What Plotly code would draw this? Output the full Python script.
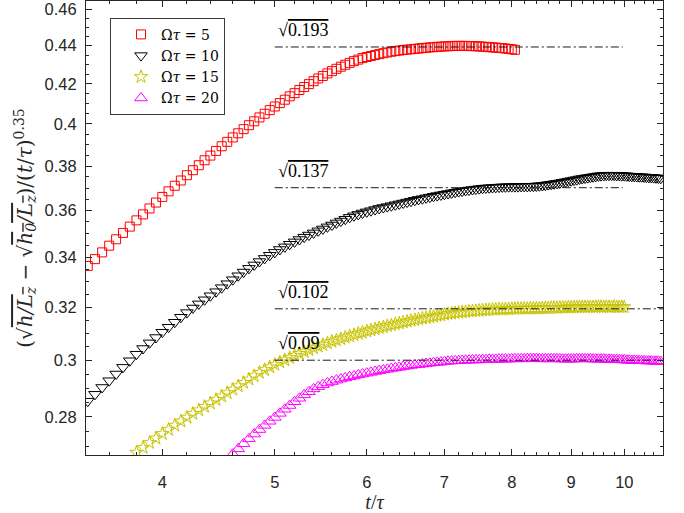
import math
import plotly.graph_objects as go

# ---------------- data ----------------
T = [3.45, 3.50, 3.55, 3.60, 3.65, 3.70, 3.75, 3.80, 3.85, 3.90, 3.95,
     4.00, 4.05, 4.10, 4.15, 4.20, 4.25, 4.30, 4.35, 4.40, 4.45,
     4.50, 4.55, 4.60, 4.65, 4.70, 4.75, 4.80, 4.85, 4.90, 4.95,
     5.00, 5.05, 5.10, 5.15, 5.20, 5.25, 5.30, 5.35, 5.40, 5.45,
     5.50, 5.55, 5.60, 5.65, 5.70, 5.75, 5.80, 5.85, 5.90, 5.95,
     6.00, 6.05, 6.10, 6.15, 6.20, 6.25, 6.30, 6.35, 6.40, 6.45,
     6.50, 6.55, 6.60, 6.65, 6.70, 6.75, 6.80, 6.85, 6.90, 6.95,
     7.00, 7.05, 7.10, 7.15, 7.20, 7.25, 7.30, 7.35, 7.40, 7.45,
     7.50, 7.55, 7.60, 7.65, 7.70, 7.75, 7.80, 7.85, 7.90, 7.95,
     8.00, 8.05, 8.10, 8.15, 8.20, 8.25, 8.30, 8.35, 8.40, 8.45,
     8.50, 8.55, 8.60, 8.65, 8.70, 8.75, 8.80, 8.85, 8.90, 8.95,
     9.00, 9.05, 9.10, 9.15, 9.20, 9.25, 9.30, 9.35, 9.40, 9.45,
     9.50, 9.55, 9.60, 9.65, 9.70, 9.75, 9.80, 9.85, 9.90, 9.95,
     10.00, 10.05, 10.10, 10.15, 10.20, 10.25, 10.30, 10.35, 10.40, 10.45,
     10.50, 10.55, 10.60, 10.65, 10.70, 10.75]

RED_START = 3.45
RED = [0.3365, 0.3393, 0.3421, 0.3449, 0.3476, 0.3503, 0.3530, 0.3557, 0.3583, 0.3609, 0.3635,
       0.3660, 0.3685, 0.3710, 0.3734, 0.3758, 0.3781, 0.3804, 0.3827, 0.3849, 0.3871,
       0.3893, 0.3914, 0.3935, 0.3955, 0.3975, 0.3994, 0.4013, 0.4032, 0.4050, 0.4068,
       0.4086, 0.4103, 0.4120, 0.4137, 0.4153, 0.4169, 0.4184, 0.4199, 0.4214, 0.4228,
       0.4241, 0.4254, 0.4266, 0.4278, 0.4289, 0.4299, 0.4309, 0.4318, 0.4326, 0.4334,
       0.4340, 0.4345, 0.4350, 0.4355, 0.4360, 0.4364, 0.4368, 0.4371, 0.4374, 0.4377,
       0.4379, 0.4381, 0.4383, 0.4385, 0.4387, 0.4389, 0.4391, 0.4392, 0.4394, 0.4395,
       0.4396, 0.4397, 0.4398, 0.4399, 0.4399, 0.4399, 0.4399, 0.4398, 0.4398, 0.4397,
       0.4396, 0.4395, 0.4394, 0.4392, 0.4391, 0.4390, 0.4388, 0.4387, 0.4385, 0.4383,
       0.4381, 0.4378]

BLACK_START = 3.45
BLACK = [0.2854, 0.2878, 0.2902, 0.2926, 0.2950, 0.2974, 0.2998, 0.3022, 0.3043, 0.3064, 0.3084,
         0.3104, 0.3123, 0.3142, 0.3161, 0.3179, 0.3197, 0.3213, 0.3229, 0.3245, 0.3261,
         0.3277, 0.3293, 0.3309, 0.3325, 0.3340, 0.3355, 0.3369, 0.3383, 0.3396, 0.3409,
         0.3421, 0.3433, 0.3444, 0.3455, 0.3465, 0.3475, 0.3485, 0.3494, 0.3503, 0.3512,
         0.3520, 0.3529, 0.3537, 0.3546, 0.3554, 0.3562, 0.3570, 0.3577, 0.3583, 0.3589,
         0.3594, 0.3599, 0.3604, 0.3609, 0.3613, 0.3617, 0.3621, 0.3625, 0.3629, 0.3633,
         0.3637, 0.3641, 0.3645, 0.3649, 0.3652, 0.3656, 0.3659, 0.3663, 0.3666, 0.3669,
         0.3672, 0.3675, 0.3678, 0.3681, 0.3684, 0.3686, 0.3689, 0.3691, 0.3693, 0.3695,
         0.3697, 0.3699, 0.3700, 0.3701, 0.3702, 0.3703, 0.3704, 0.3705, 0.3705, 0.3706,
         0.3706, 0.3706, 0.3706, 0.3707, 0.3707, 0.3707, 0.3708, 0.3708, 0.3709, 0.3710,
         0.3711, 0.3713, 0.3715, 0.3717, 0.3719, 0.3721, 0.3723, 0.3726, 0.3728, 0.3731,
         0.3733, 0.3736, 0.3738, 0.3741, 0.3743, 0.3745, 0.3747, 0.3749, 0.3751, 0.3753,
         0.3755, 0.3756, 0.3757, 0.3758, 0.3758, 0.3758, 0.3758, 0.3757, 0.3757, 0.3756,
         0.3756, 0.3755, 0.3754, 0.3753, 0.3753, 0.3752, 0.3751, 0.3751, 0.3750, 0.3749,
         0.3748, 0.3748, 0.3747, 0.3746, 0.3745, 0.3744]

YELLOW_START = 3.80
YELLOW = [0.2681, 0.2697, 0.2713, 0.2728,
          0.2743, 0.2757, 0.2771, 0.2785, 0.2798, 0.2811, 0.2823, 0.2835, 0.2847, 0.2859,
          0.2871, 0.2883, 0.2895, 0.2907, 0.2919, 0.2931, 0.2943, 0.2955, 0.2965, 0.2975,
          0.2984, 0.2993, 0.3001, 0.3009, 0.3017, 0.3024, 0.3031, 0.3038, 0.3045, 0.3051,
          0.3057, 0.3063, 0.3069, 0.3074, 0.3079, 0.3085, 0.3090, 0.3094, 0.3099, 0.3103,
          0.3108, 0.3112, 0.3116, 0.3120, 0.3124, 0.3128, 0.3131, 0.3135, 0.3138, 0.3142,
          0.3145, 0.3148, 0.3151, 0.3154, 0.3157, 0.3159, 0.3162, 0.3164, 0.3167, 0.3169,
          0.3172, 0.3174, 0.3176, 0.3178, 0.3179, 0.3181, 0.3182, 0.3184, 0.3185, 0.3186,
          0.3187, 0.3188, 0.3189, 0.3190, 0.3191, 0.3191, 0.3192, 0.3192, 0.3193, 0.3193,
          0.3194, 0.3194, 0.3195, 0.3195, 0.3195, 0.3195, 0.3196, 0.3196, 0.3196, 0.3196,
          0.3197, 0.3197, 0.3197, 0.3198, 0.3198, 0.3198, 0.3199, 0.3199, 0.3199, 0.3200,
          0.3200, 0.3200, 0.3200, 0.3201, 0.3201, 0.3201, 0.3201, 0.3201, 0.3201, 0.3201,
          0.3202, 0.3202, 0.3201, 0.3202, 0.3201, 0.3201, 0.3202, 0.3201, 0.3201, 0.3201,
          0.3201]

MAGENTA_START = 4.60
MAGENTA = [0.2676, 0.2693, 0.2710, 0.2726, 0.2742, 0.2757, 0.2771, 0.2785,
           0.2798, 0.2812, 0.2826, 0.2839, 0.2852, 0.2864, 0.2876, 0.2887, 0.2897, 0.2905,
           0.2912, 0.2918, 0.2923, 0.2928, 0.2932, 0.2936, 0.2940, 0.2943, 0.2947, 0.2950,
           0.2953, 0.2956, 0.2959, 0.2962, 0.2965, 0.2967, 0.2970, 0.2972, 0.2974, 0.2977,
           0.2979, 0.2981, 0.2983, 0.2984, 0.2986, 0.2988, 0.2989, 0.2991, 0.2992, 0.2993,
           0.2995, 0.2996, 0.2997, 0.2998, 0.2998, 0.2999, 0.3000, 0.3000, 0.3001, 0.3001,
           0.3001, 0.3002, 0.3002, 0.3003, 0.3003, 0.3003, 0.3004, 0.3004, 0.3004, 0.3004,
           0.3005, 0.3005, 0.3005, 0.3005, 0.3005, 0.3006, 0.3006, 0.3006, 0.3006, 0.3005,
           0.3005, 0.3005, 0.3005, 0.3005, 0.3005, 0.3005, 0.3005, 0.3004, 0.3004, 0.3004,
           0.3004, 0.3004, 0.3005, 0.3005, 0.3005, 0.3005, 0.3005, 0.3005, 0.3004, 0.3004,
           0.3004, 0.3004, 0.3004, 0.3003, 0.3003, 0.3003, 0.3002, 0.3002, 0.3002, 0.3001,
           0.3001, 0.3000, 0.3000, 0.2999, 0.2999, 0.2999, 0.2998, 0.2998, 0.2998, 0.2997,
           0.2997, 0.2997, 0.2996, 0.2996, 0.2996, 0.2995]

SERIES_NAMES = ["Ω<i>τ</i> = 5", "Ω<i>τ</i> = 10", "Ω<i>τ</i> = 15", "Ω<i>τ</i> = 20"]

# plateau reference lines: value under the root, start time, end time
REF_SQ = [0.193, 0.137, 0.102, 0.09]
REF_LABELS = ["0.193", "0.137", "0.102", "0.09"]
REF_T0 = [5.0, 5.0, 5.0, 5.0]
REF_T1 = [9.97, 9.97, 11.0, 11.0]

X_TICKS = [4, 5, 6, 7, 8, 9, 10]
Y_TICKS = [0.28, 0.30, 0.32, 0.34, 0.36, 0.38, 0.40, 0.42, 0.44, 0.46]
Y_TICKTEXT = ["0.28", "0.3", "0.32", "0.34", "0.36", "0.38", "0.4", "0.42", "0.44", "0.46"]


def times(start, n):
    i = min(range(len(T)), key=lambda k: abs(T[k] - start))
    return T[i:i + n]


SERIF = "DejaVu Serif, Liberation Serif, serif"
SERIF2 = "Liberation Serif, DejaVu Serif, serif"
SANS = "Liberation Sans, Arial, Helvetica, sans-serif"
AXC = "#262626"

fig = go.Figure()

styles = [
    (RED_START, RED, "square-open", "#ff0000", 9),
    (BLACK_START, BLACK, "triangle-down-open", "#000000", 11),
    (YELLOW_START, YELLOW, "star-open", "#c8c400", 10),
    (MAGENTA_START, MAGENTA, "triangle-up-open", "#ff00ff", 11),
]
for (t0, vals, sym, col, sz), name in zip(styles, SERIES_NAMES):
    fig.add_trace(go.Scatter(
        x=times(t0, len(vals)), y=vals, mode="markers", name=name,
        marker=dict(symbol=sym, color=col, size=sz, line=dict(color=col, width=1)),
    ))

for sq, t0, t1 in zip(REF_SQ, REF_T0, REF_T1):
    v = math.sqrt(sq)
    fig.add_trace(go.Scatter(
        x=[t0, t1], y=[v, v], mode="lines", showlegend=False,
        line=dict(color="#1a1a1a", width=1, dash="8px,3px,2px,3px"),
        hoverinfo="skip",
    ))

for sq, lab, t0 in zip(REF_SQ, REF_LABELS, REF_T0):
    v = math.sqrt(sq)
    fig.add_annotation(
        x=math.log10(t0 * 1.003), y=math.log10(v), xref="x", yref="y",
        text="√<span style='text-decoration:overline'>" + lab + "</span>",
        showarrow=False, xanchor="left", yanchor="bottom", yshift=5,
        font=dict(family=SERIF2, size=18, color="#000000"),
    )

minor_x = [round(3.6 + 0.2 * k, 1) for k in range(37)]
minor_x = [v for v in minor_x if abs(v - round(v)) > 1e-6]
minor_y = [round(0.265 + 0.005 * k, 3) for k in range(42)]
minor_y = [v for v in minor_y if abs(v * 50 - round(v * 50)) > 1e-6]


def ov(s):
    return "<span style='text-decoration:overline;font-style:italic'>" + s + "</span>"


Y_TITLE = ("(√" + ov("h/L") + "<sub>" + ov("z") + "</sub>"
           + " − √" + ov("h") + "<sub>" + ov("0") + "</sub>" + ov("/L") + "<sub>" + ov("z") + "</sub>"
           + ")/(<i>t</i>/<i>τ</i>)<sup>0.35</sup>")

fig.update_layout(
    width=684, height=513, autosize=False,
    margin=dict(l=86, r=21, t=1, b=58),
    paper_bgcolor="white", plot_bgcolor="white",
    showlegend=True,
    legend=dict(
        x=0.0416, y=0.963, xanchor="left", yanchor="top",
        bgcolor="white", bordercolor="#3a3a3a", borderwidth=1,
        font=dict(family=SERIF, size=14, color="#000000"),
        indentation=10,
    ),
    xaxis=dict(
        type="log", range=[0.53634, 1.03333],
        tickmode="array", tickvals=X_TICKS, ticktext=[str(v) for v in X_TICKS],
        ticks="inside", ticklen=6, tickwidth=1, tickcolor=AXC,
        minor=dict(tickmode="array", tickvals=minor_x, ticks="inside", ticklen=3,
                   tickwidth=1, tickcolor=AXC, showgrid=False),
        showline=True, linecolor=AXC, linewidth=1, mirror="allticks",
        showgrid=False, zeroline=False,
        tickfont=dict(family=SANS, size=16.5, color=AXC),
        ticklabelstandoff=12, ticklabeloverflow="allow",
        title=dict(text="<i>t</i>/<i>τ</i>", font=dict(family=SERIF2, size=20, color=AXC),
                   standoff=4),
    ),
    yaxis=dict(
        type="log", range=[-0.57301, -0.33290],
        tickmode="array", tickvals=Y_TICKS, ticktext=Y_TICKTEXT,
        ticks="inside", ticklen=6, tickwidth=1, tickcolor=AXC,
        minor=dict(tickmode="array", tickvals=minor_y, ticks="inside", ticklen=3,
                   tickwidth=1, tickcolor=AXC, showgrid=False),
        showline=True, linecolor=AXC, linewidth=1, mirror="allticks",
        showgrid=False, zeroline=False,
        tickfont=dict(family=SANS, size=16.5, color=AXC),
        ticklabelstandoff=5, ticklabeloverflow="allow",
        title=dict(text=Y_TITLE, font=dict(family=SERIF, size=20, color=AXC), standoff=6),
    ),
)

fig.write_html("out.html")
